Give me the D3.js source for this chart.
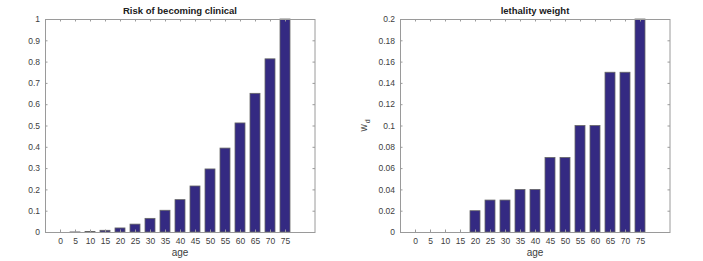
<!DOCTYPE html>
<html>
<head>
<meta charset="utf-8">
<script src="https://cdn.jsdelivr.net/npm/d3@7"></script>
<style>
  body { margin: 0; background: #fff; }
  svg { display: block; font-family: "Liberation Sans", Arial, sans-serif; }
  .tick text { fill: #404040; font-size: 8.5px; }
  .box { fill: none; stroke: #9a9a9a; stroke-width: 1; }
</style>
</head>
<body>
<svg id="chart" width="703" height="261"></svg>
<script>
// age groups along the x axis
const ages = [0, 5, 10, 15, 20, 25, 30, 35, 40, 45, 50, 55, 60, 65, 70, 75];

// left panel: risk of becoming clinical
const clinicalRisk = [0, 0.0003, 0.0024, 0.008, 0.019, 0.037, 0.064, 0.102,
  0.152, 0.216, 0.296, 0.394, 0.512, 0.651, 0.813, 1.0];
const clinicalTicks = [0, 0.1, 0.2, 0.3, 0.4, 0.5, 0.6, 0.7, 0.8, 0.9, 1];

// right panel: lethality weight
const lethality = [0, 0, 0, 0, 0.02, 0.03, 0.03, 0.04, 0.04, 0.07, 0.07,
  0.1, 0.1, 0.15, 0.15, 0.2];
const lethalityTicks = [0, 0.02, 0.04, 0.06, 0.08, 0.1, 0.12, 0.14, 0.16, 0.18, 0.2];

const svg = d3.select('#chart');
const barColor = '#342a82';

function panel(left, values, yMax, yTicks, title, yLabel) {
  const top = 19;
  const bottom = 232;
  const w = 270;
  const g = svg.append('g').attr('transform', `translate(${left},0)`);

  const x = d3.scaleLinear().domain([-5, 85]).range([0, w]);
  const y = d3.scaleLinear().domain([0, yMax]).range([bottom, top]);
  const barW = 10;

  g.selectAll('rect.bar')
    .data(values)
    .join('rect')
    .attr('class', 'bar')
    .attr('x', (d, i) => x(ages[i]) - barW / 2)
    .attr('y', (d) => y(d))
    .attr('width', barW)
    .attr('height', (d) => bottom - y(d))
    .attr('fill', barColor)
    .attr('stroke', '#666')
    .attr('stroke-width', 0.8);

  // small bottom ticks (drawn inward)
  const xAxis = g.append('g')
    .attr('transform', `translate(0,${bottom})`)
    .call(d3.axisBottom(x).tickValues(ages).tickSize(-2.5).tickPadding(6)
      .tickFormat(d3.format('d')));
  xAxis.select('.domain').remove();
  xAxis.selectAll('line').attr('stroke', '#9a9a9a');

  const xTop = g.append('g')
    .attr('transform', `translate(0,${top})`)
    .call(d3.axisTop(x).tickValues(ages).tickSize(-2.5).tickFormat(''));
  xTop.select('.domain').remove();
  xTop.selectAll('line').attr('stroke', '#9a9a9a');

  const yAxis = g.append('g')
    .call(d3.axisLeft(y).tickValues(yTicks).tickSize(-2.5).tickPadding(5)
      .tickFormat(d3.format('')));
  yAxis.select('.domain').remove();
  yAxis.selectAll('line').attr('stroke', '#9a9a9a');

  const yRight = g.append('g')
    .attr('transform', `translate(${w},0)`)
    .call(d3.axisRight(y).tickValues(yTicks).tickSize(-2.5).tickFormat(''));
  yRight.select('.domain').remove();
  yRight.selectAll('line').attr('stroke', '#9a9a9a');

  g.append('rect')
    .attr('class', 'box')
    .attr('x', 0.5)
    .attr('y', top + 0.5)
    .attr('width', w - 0.5)
    .attr('height', bottom - top);

  g.append('text')
    .attr('x', w / 2)
    .attr('y', 14)
    .attr('text-anchor', 'middle')
    .attr('font-size', 9.5)
    .attr('font-weight', 'bold')
    .attr('fill', '#202020')
    .text(title);

  g.append('text')
    .attr('x', w / 2)
    .attr('y', 256)
    .attr('text-anchor', 'middle')
    .attr('font-size', 10)
    .attr('fill', '#404040')
    .text('age');

  if (yLabel) {
    const t = g.append('text')
      .attr('transform', `translate(-33,${(top + bottom) / 2}) rotate(-90)`)
      .attr('text-anchor', 'middle')
      .attr('font-size', 10)
      .attr('fill', '#404040');
    t.append('tspan').text(yLabel[0]);
    t.append('tspan').attr('font-size', 7).attr('dy', 3).attr('dx', 1).text(yLabel[1]);
  }
}

panel(45, clinicalRisk, 1, clinicalTicks, 'Risk of becoming clinical', null);
panel(400, lethality, 0.2, lethalityTicks, 'lethality weight', ['w', 'd']);
</script>
</body>
</html>
